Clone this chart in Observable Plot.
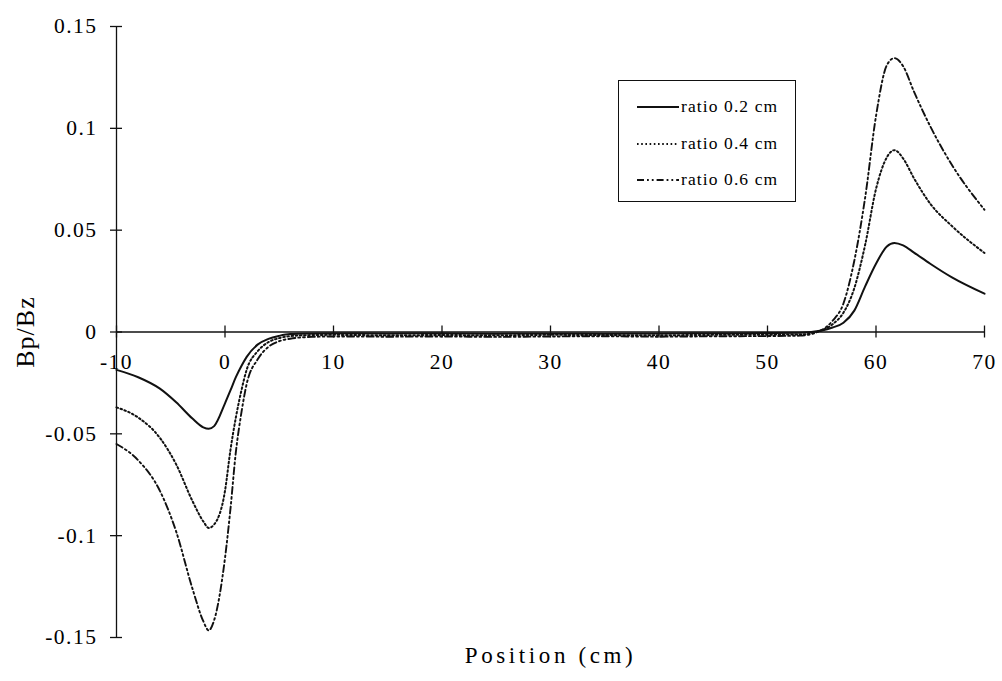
<!DOCTYPE html>
<html>
<head>
<meta charset="utf-8">
<script src="https://cdn.jsdelivr.net/npm/d3@7"></script>
<script src="https://cdn.jsdelivr.net/npm/@observablehq/plot@0.6"></script>
<style>
  html, body { margin: 0; padding: 0; background: #fff; }
  #wrap { position: relative; width: 1002px; height: 681px; font-family: "Liberation Serif", "Times New Roman", serif; }
  #wrap svg text { font-family: "Liberation Serif", "Times New Roman", serif; fill: #000; }
  #legend { position: absolute; left: 618px; top: 80px; width: 178px; height: 122px; border: 1.3px solid #111; box-sizing: border-box; background: #fff; }
  .row { position: absolute; left: 0; height: 20px; display: flex; align-items: center; }
  .row span { font-size: 17.5px; letter-spacing: 1.1px; color: #000; margin-left: 2px; white-space: nowrap; }
</style>
</head>
<body>
<div id="wrap"></div>
<script>
// Shared x positions (cm)
const position = [-10, -8, -6, -4.5, -3, -2, -1.5, -1, 0, 0.5, 1, 1.5, 2, 3, 4, 5, 6, 8, 10, 15, 20, 25, 30, 35, 40, 45, 50, 53, 55, 56, 57, 58, 59, 60, 61, 61.7, 62.5, 63.5, 65, 67, 70];
// Bp/Bz for each ratio
const ratio02 = [-0.0186, -0.0222, -0.0278, -0.0345, -0.0425, -0.0468, -0.0475, -0.0462, -0.035, -0.0287, -0.0222, -0.0168, -0.0122, -0.0062, -0.0034, -0.0019, -0.0010, -0.0007, -0.0006, -0.0007, -0.0006, -0.0008, -0.0007, -0.0008, -0.0007, -0.0006, -0.0005, -0.0004, 0.0007, 0.0022, 0.0045, 0.0105, 0.0224, 0.0335, 0.042, 0.0437, 0.0425, 0.039, 0.0335, 0.0268, 0.0188];
const ratio04 = [-0.037, -0.042, -0.052, -0.065, -0.083, -0.093, -0.0962, -0.0945, -0.078, -0.058, -0.042, -0.029, -0.0185, -0.0095, -0.005, -0.003, -0.002, -0.0015, -0.0014, -0.0016, -0.0015, -0.0016, -0.0014, -0.0015, -0.0016, -0.0014, -0.0013, -0.0012, 0.0008, 0.0038, 0.0095, 0.0215, 0.0428, 0.0702, 0.0858, 0.0893, 0.0852, 0.0755, 0.063, 0.052, 0.0388];
const ratio06 = [-0.055, -0.063, -0.078, -0.098, -0.126, -0.142, -0.1465, -0.1415, -0.111, -0.087, -0.059, -0.040, -0.0255, -0.0135, -0.0073, -0.0045, -0.0033, -0.0024, -0.0022, -0.0023, -0.0022, -0.0024, -0.0022, -0.0021, -0.0023, -0.0021, -0.002, -0.0018, 0.001, 0.0055, 0.014, 0.035, 0.066, 0.106, 0.131, 0.1345, 0.1305, 0.118, 0.101, 0.082, 0.060];

const seriesNames = ["ratio 0.2 cm", "ratio 0.4 cm", "ratio 0.6 cm"];
const xTicks = [-10, 0, 10, 20, 30, 40, 50, 60, 70];
const xTickLabels = ["-10", "0", "10", "20", "30", "40", "50", "60", "70"];
const yTicks = [0.15, 0.1, 0.05, 0, -0.05, -0.1, -0.15];
const yTickLabels = ["0.15", "0.1", "0.05", "0", "-0.05", "-0.1", "-0.15"];
const xTitle = "Position (cm)";
const yTitle = "Bp/Bz";

const dashes = ["none", "1.6,2.6", "7,3,1.8,3,1.8,3"];
const widths = [2, 2, 1.9];

const allSeries = [ratio02, ratio04, ratio06];
const lineMarks = allSeries.map((vals, s) =>
  Plot.line(position.map((p, i) => ({x: p, y: vals[i]})), {
    x: "x", y: "y", stroke: "#111", strokeWidth: widths[s],
    strokeDasharray: dashes[s], curve: "monotone-x"
  })
);

const chart = Plot.plot({
  width: 1002,
  height: 681,
  marginLeft: 116,
  marginRight: 18,
  marginTop: 26,
  marginBottom: 44,
  x: {domain: [-10, 70], axis: null},
  y: {domain: [-0.15, 0.15], axis: null},
  style: {background: "#fff", fontFamily: "Liberation Serif"},
  marks: [
    Plot.ruleX([-10], {stroke: "#111", strokeWidth: 1.3}),
    Plot.ruleY([0], {x1: -10, x2: 70, stroke: "#111", strokeWidth: 1.3}),
    Plot.ruleY(yTicks, {x1: -10, x2: -10, insetLeft: -6, insetRight: -6, stroke: "#111", strokeWidth: 1.3}),
    Plot.ruleX(xTicks, {y1: 0, y2: 0, insetTop: -6, insetBottom: -6, stroke: "#111", strokeWidth: 1.3}),
    ...lineMarks,
    Plot.text(yTicks, {x: -10, y: d => d, text: (d, i) => yTickLabels[i], dx: -19, textAnchor: "end", fontSize: 21.5}),
    Plot.text(xTicks, {x: d => d, y: 0, text: (d, i) => xTickLabels[i], dy: 30, textAnchor: "middle", fontSize: 21.5}),
    Plot.text([xTitle], {frameAnchor: "bottom", text: d => d, dy: 18, textAnchor: "middle", lineAnchor: "middle", fontSize: 23}),
    Plot.text([yTitle], {frameAnchor: "left", text: d => d, dx: -91, rotate: -90, textAnchor: "middle", lineAnchor: "middle", fontSize: 26})
  ]
});

// letter spacing tuned per text role
const tickSet = new Set([...xTickLabels, ...yTickLabels]);
chart.querySelectorAll("text").forEach(t => {
  const s = t.textContent;
  if (s === xTitle) t.style.letterSpacing = "3.6px";
  else if (s === yTitle) t.style.letterSpacing = "1px";
  else if (tickSet.has(s)) t.style.letterSpacing = "1.5px";
});

const wrap = document.getElementById("wrap");
wrap.appendChild(chart);

// Legend (inside the plot area, drawn as an overlay box)
const legend = document.createElement("div");
legend.id = "legend";
const rowTops = [15, 52, 88];
seriesNames.forEach((name, s) => {
  const row = document.createElement("div");
  row.className = "row";
  row.style.top = rowTops[s] + "px";
  row.style.left = "18px";
  const ns = "http://www.w3.org/2000/svg";
  const sv = document.createElementNS(ns, "svg");
  sv.setAttribute("width", "42");
  sv.setAttribute("height", "20");
  const ln = document.createElementNS(ns, "line");
  ln.setAttribute("x1", "0"); ln.setAttribute("x2", "42");
  ln.setAttribute("y1", "11"); ln.setAttribute("y2", "11");
  ln.setAttribute("stroke", "#111");
  ln.setAttribute("stroke-width", widths[s]);
  if (dashes[s] !== "none") ln.setAttribute("stroke-dasharray", dashes[s]);
  sv.appendChild(ln);
  const sp = document.createElement("span");
  sp.textContent = name;
  row.appendChild(sv);
  row.appendChild(sp);
  legend.appendChild(row);
});
wrap.appendChild(legend);
</script>
</body>
</html>
